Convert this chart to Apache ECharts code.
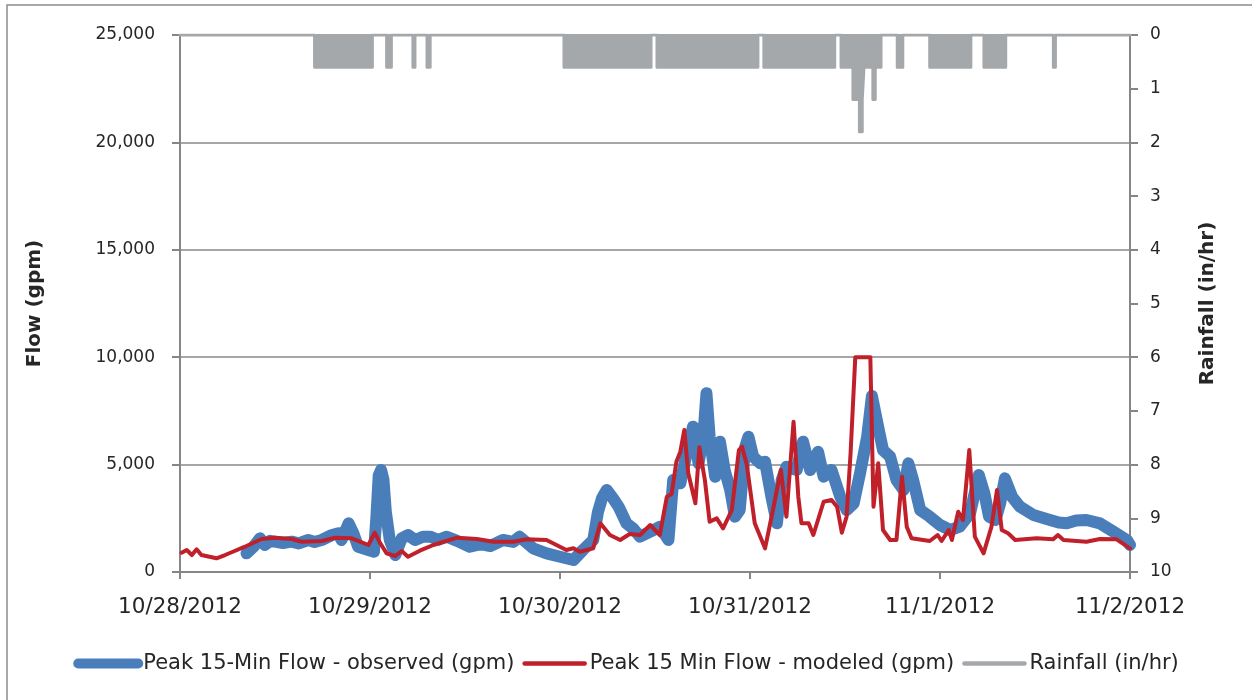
<!DOCTYPE html>
<html>
<head>
<meta charset="utf-8">
<script src="https://cdn.jsdelivr.net/npm/echarts@6/dist/echarts.min.js"></script>
<style>html,body{margin:0;padding:0;background:#fff}#c{width:1252px;height:700px}</style>
</head>
<body>
<div id="c"></div>
<script>
// Hours since 10/28/2012 00:00
const xTickLabels = ['10/28/2012','10/29/2012','10/30/2012','10/31/2012','11/1/2012','11/2/2012'];

const obsHours = [8.4,9.3,10.1,10.7,11.4,12,13,14.1,15,16.2,17.0,17.9,19.2,20.0,20.4,21.3,21.9,22.5,23.8,24.5,24.8,25.1,25.4,25.7,26.0,26.5,27.2,28.0,28.8,29.7,30.7,31.6,32.6,33.7,35,36.6,38,39.2,40.8,42.1,42.9,44.6,46.3,48.0,49.7,50.9,52.2,52.8,53.3,53.9,54.7,55.4,56.4,57.3,58.1,59.8,60.6,61.7,62.3,63.2,64.0,64.8,65.5,66.1,66.5,66.9,67.6,68.2,68.8,69.5,70.1,70.7,71.4,71.8,72.4,73.3,73.9,74.7,75.4,76.0,76.6,77.9,78.7,79.6,80.6,81.3,82.3,83.4,84.2,85.1,85.9,86.8,87.4,88.1,88.8,89.7,90.5,91.4,92.0,92.6,93.5,94.7,96.0,97.3,98.5,99.8,100.9,101.6,102.2,103.0,103.6,104.2,105.1,106.1,107.8,109.9,111.0,112,113.2,114.5,116.2,117.9,119.6,120];
const obsFlow = [870,1178,1567,1257,1450,1411,1350,1411,1330,1490,1400,1490,1722,1800,1490,2267,1800,1178,1024,945,2500,4500,4750,4300,2800,1490,791,1567,1722,1490,1644,1644,1500,1644,1450,1178,1300,1210,1490,1400,1644,1103,870,712,559,1024,1490,2800,3430,3817,3430,3040,2267,2000,1644,1955,2109,1490,4283,4129,5526,6764,5060,6298,8318,6298,4436,6066,4748,3817,2574,2886,5833,6298,5367,5060,5134,3505,2267,4283,4902,4748,6066,4748,5600,4436,4748,3505,2886,3198,4594,6298,8200,6920,5679,5367,4283,3817,5060,4283,2886,2574,2188,1955,2109,2732,4515,3663,2574,2421,3198,4362,3505,3040,2653,2421,2300,2267,2400,2421,2267,1876,1490,1257];

const modHours = [0.2,0.85,1.5,2.1,2.7,4.6,5.7,6.9,8.2,10.3,12,14.1,15.4,17.9,19.6,21.7,23.8,24.6,25.3,26.1,27.2,28.0,28.8,30.3,32,35,37.5,39.6,42.1,43.8,46.3,48.8,49.7,50.5,52.2,53.1,54.3,55.6,56.8,58.1,59.4,60.6,61.5,62.1,62.7,63.2,63.7,64.2,65.1,65.6,66.3,66.9,67.8,68.6,69.7,70.6,71.0,71.6,72.6,73.9,74.9,75.9,76.6,77.5,78.1,78.5,79.4,80.0,81.3,82.3,83.0,83.6,84.2,84.7,85.3,87.2,87.6,88.2,88.8,89.7,90.5,91.2,91.8,92.4,94.7,95.7,96.2,97.1,97.5,98.3,98.9,99.7,100.4,101.5,102.5,103.2,103.8,104.6,105.5,108.2,110.3,110.9,111.6,114.5,116.2,118.3,120];
const modFlow = [898,1024,791,1056,791,637,791,978,1178,1536,1597,1536,1411,1443,1597,1567,1257,1830,1336,870,745,978,712,992,1257,1597,1536,1411,1411,1522,1490,1024,1103,945,1103,2267,1722,1490,1769,1722,2188,1722,3505,3631,5134,5600,6610,4594,3198,5805,4283,2342,2499,2034,2886,5679,5833,4981,2267,1103,2886,4748,2574,6997,3505,2267,2267,1722,3272,3352,3040,1830,2574,5500,10000,10000,3040,5060,1955,1490,1490,4436,2109,1567,1443,1722,1443,1955,1490,2808,2421,5679,1644,870,2109,3817,1955,1800,1490,1567,1522,1722,1490,1411,1536,1522,1103];

// Rainfall: value holds from each hour until the next one
const rainHours = [0,17.0,24.3,26.1,26.7,29.42,29.68,31.2,31.6,48.5,59.5,60.25,73.0,73.75,82.7,83.5,85.0,85.82,86.18,86.4,87.52,87.82,88.55,90.6,91.3,94.7,99.9,101.55,104.3,110.32,110.58,120];
const rainInches = [0,0.6,0,0.6,0,0.6,0,0.6,0,0.6,0,0.6,0,0.6,0,0.6,1.2,1.8,1.2,0.6,1.2,0.6,0,0.6,0,0.6,0,0.6,0,0.6,0,0];

const pair = (xs, ys) => xs.map((x, i) => [x, ys[i]]);

const FONT = 'DejaVu Sans';
const TXT = '#262626';
const AXIS = '#868686';
const GRID = '#a6a6a6';

const chart = echarts.init(document.getElementById('c'), null, {renderer: 'canvas'});
chart.setOption({
  animation: false,
  backgroundColor: '#fff',
  textStyle: {fontFamily: FONT},
  graphic: [{
    type: 'rect', shape: {x: 7, y: 5, width: 1260, height: 710},
    style: {fill: 'none', stroke: '#8c8c8c', lineWidth: 1.5}, silent: true
  }],
  grid: {left: 180, right: 122, top: 35, bottom: 128},
  legend: {
    bottom: 21, left: 'center', itemWidth: 60, itemHeight: 12, itemGap: 8,
    textStyle: {fontFamily: FONT, fontSize: 21, color: TXT},
    data: [
      {name: 'Peak 15-Min Flow - observed (gpm)', lineStyle: {width: 10, cap: 'round'}, itemStyle: {opacity: 0}},
      {name: 'Peak 15 Min Flow - modeled (gpm)', lineStyle: {width: 4.5, cap: 'round'}, itemStyle: {opacity: 0}},
      {name: 'Rainfall (in/hr)', lineStyle: {width: 4.5, cap: 'round'}, itemStyle: {opacity: 0}}
    ]
  },
  xAxis: {
    type: 'value', min: 0, max: 120, interval: 24,
    axisLine: {lineStyle: {color: AXIS, width: 2}},
    axisTick: {show: true, length: 7, lineStyle: {color: AXIS, width: 2}},
    splitLine: {show: false},
    axisLabel: {fontFamily: FONT, fontSize: 21.5, color: TXT, margin: 24,
      formatter: v => xTickLabels[Math.round(v / 24)]}
  },
  yAxis: [{
    type: 'value', min: 0, max: 25000, interval: 5000, position: 'left',
    name: 'Flow (gpm)', nameLocation: 'middle', nameRotate: 90, nameGap: 135,
    nameTextStyle: {fontFamily: FONT, fontSize: 20, fontWeight: 'bold', color: TXT},
    axisLine: {show: true, lineStyle: {color: AXIS, width: 2}},
    axisTick: {show: true, length: 8, lineStyle: {color: AXIS, width: 2}},
    splitLine: {show: true, lineStyle: {color: GRID, width: 2}},
    axisLabel: {fontFamily: FONT, fontSize: 17, color: TXT, margin: 25,
      formatter: v => v.toLocaleString('en-US')}
  }, {
    type: 'value', min: 0, max: 10, interval: 1, position: 'right', inverse: true,
    name: 'Rainfall (in/hr)', nameLocation: 'middle', nameRotate: 90, nameGap: 68,
    nameTextStyle: {fontFamily: FONT, fontSize: 20, fontWeight: 'bold', color: TXT},
    axisLine: {show: true, lineStyle: {color: AXIS, width: 2}},
    axisTick: {show: true, length: 8, lineStyle: {color: AXIS, width: 2}},
    splitLine: {show: false},
    axisLabel: {fontFamily: FONT, fontSize: 17, color: TXT, margin: 20}
  }],
  series: [{
    name: 'Rainfall (in/hr)', type: 'line', yAxisIndex: 1, step: 'end',
    symbol: 'none', data: pair(rainHours, rainInches),
    lineStyle: {color: '#a5a8ab', width: 3, cap: 'round', join: 'round'},
    itemStyle: {color: '#a5a8ab'},
    areaStyle: {color: '#a5a8ab', opacity: 1}, z: 2
  }, {
    name: 'Peak 15-Min Flow - observed (gpm)', type: 'line', yAxisIndex: 0,
    symbol: 'none', data: pair(obsHours, obsFlow),
    lineStyle: {color: '#4a7ebb', width: 12, cap: 'round', join: 'round'},
    itemStyle: {color: '#4a7ebb'}, z: 3
  }, {
    name: 'Peak 15 Min Flow - modeled (gpm)', type: 'line', yAxisIndex: 0,
    symbol: 'none', data: pair(modHours, modFlow),
    lineStyle: {color: '#c0202a', width: 4, cap: 'round', join: 'round'},
    itemStyle: {color: '#c0202a'}, z: 4
  }]
});
</script>
</body>
</html>
